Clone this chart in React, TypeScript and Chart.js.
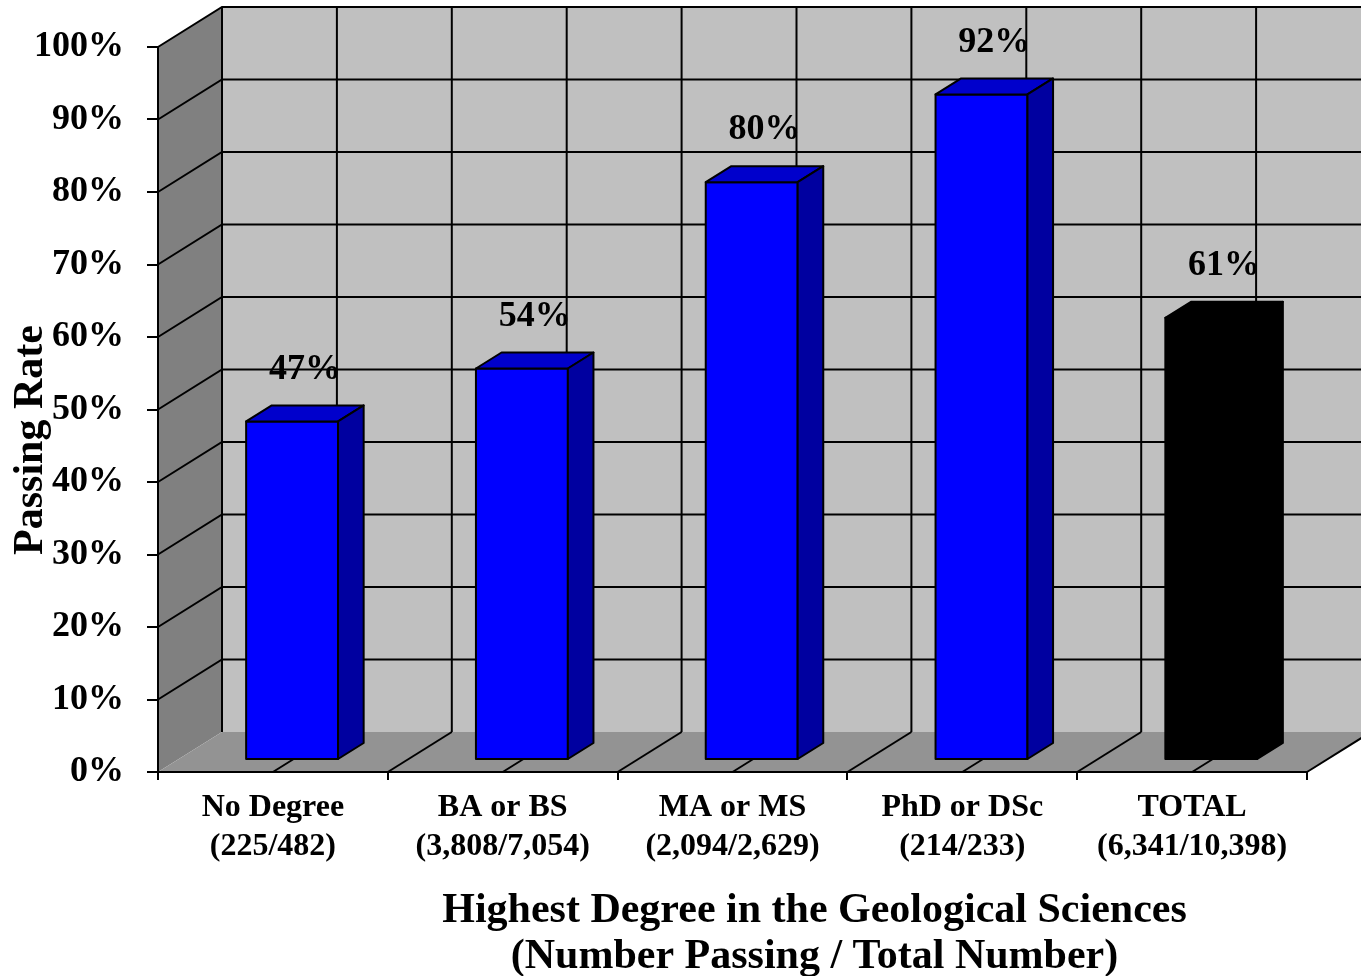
import { useEffect, useRef } from 'react';
import { Chart, registerables } from 'chart.js';

Chart.register(...registerables);

// ---- data ----
const categoryNames = ['No Degree', 'BA or BS', 'MA or MS', 'PhD or DSc', 'TOTAL'];
const categoryCounts = ['(225/482)', '(3,808/7,054)', '(2,094/2,629)', '(214/233)', '(6,341/10,398)'];
const passingRates = [46.7, 54.0, 79.7, 91.8, 61.0];
const yAxisMin = 0;
const yAxisMax = 100;
const yAxisStep = 10;
const yAxisTitle = 'Passing Rate';
const xAxisTitleLines = ['Highest Degree in the Geological Sciences', '(Number Passing / Total Number)'];

// ---- style ----
const FONT = '"Liberation Serif", "Times New Roman", serif';
const DEPTH_X = 64;
const DEPTH_Y = 40;
const BAR_DEPTH_START = 0.3;
const BAR_DEPTH = 0.4;
const barFaceColors = ['#0000ff', '#0000ff', '#0000ff', '#0000ff', '#000000'];
const barTopColors = ['#0000cc', '#0000cc', '#0000cc', '#0000cc', '#000000'];
const barSideColors = ['#0000a0', '#0000a0', '#0000a0', '#0000a0', '#000000'];

function poly(ctx: CanvasRenderingContext2D, pts: number[][], fill?: string, stroke?: string, lw = 2) {
  ctx.beginPath();
  ctx.moveTo(pts[0][0], pts[0][1]);
  for (let i = 1; i < pts.length; i++) ctx.lineTo(pts[i][0], pts[i][1]);
  ctx.closePath();
  if (fill) {
    ctx.fillStyle = fill;
    ctx.fill();
  }
  if (stroke) {
    ctx.strokeStyle = stroke;
    ctx.lineWidth = lw;
    ctx.lineJoin = 'round';
    ctx.stroke();
  }
}

function line(ctx: CanvasRenderingContext2D, pts: number[][]) {
  ctx.beginPath();
  ctx.moveTo(pts[0][0], pts[0][1]);
  for (let i = 1; i < pts.length; i++) ctx.lineTo(pts[i][0], pts[i][1]);
  ctx.stroke();
}

const threeDPlugin = {
  id: 'threeD',
  beforeDraw(chart: any) {
    const { ctx, chartArea: a, scales } = chart;
    const xs = scales.x;
    const ys = scales.y;
    const W = chart.width;
    ctx.save();
    // back wall
    ctx.fillStyle = '#c0c0c0';
    ctx.fillRect(a.left + DEPTH_X, a.top - DEPTH_Y, W, a.bottom - a.top);
    // side wall
    poly(ctx, [[a.left, a.top], [a.left + DEPTH_X, a.top - DEPTH_Y], [a.left + DEPTH_X, a.bottom - DEPTH_Y], [a.left, a.bottom]], '#808080');
    // floor
    poly(ctx, [[a.left, a.bottom], [a.left + DEPTH_X, a.bottom - DEPTH_Y], [a.right + DEPTH_X, a.bottom - DEPTH_Y], [a.right, a.bottom]], '#939393');

    ctx.strokeStyle = '#000';
    ctx.lineWidth = 2;
    // horizontal grid on side + back wall
    for (const t of ys.ticks) {
      if (t.value === yAxisMin) continue;
      const py = ys.getPixelForValue(t.value);
      line(ctx, [[a.left, py], [a.left + DEPTH_X, py - DEPTH_Y], [W, py - DEPTH_Y]]);
    }
    // vertical grid on back wall + floor lines
    const half = (xs.getPixelForValue(1) - xs.getPixelForValue(0)) / 2;
    for (let k = 0; a.left + DEPTH_X + k * half <= W + 1; k++) {
      const bx = a.left + DEPTH_X + k * half;
      line(ctx, [[bx, a.top - DEPTH_Y], [bx, a.bottom - DEPTH_Y]]);
    }
    const n = categoryNames.length * 2;
    for (let k = 1; k <= n; k++) {
      const fx = a.left + k * half;
      line(ctx, [[fx, a.bottom], [fx + DEPTH_X, a.bottom - DEPTH_Y]]);
    }
    ctx.restore();
  },
  afterDatasetsDraw(chart: any) {
    const { ctx, chartArea: a } = chart;
    const meta = chart.getDatasetMeta(0);
    const ox = DEPTH_X * BAR_DEPTH_START;
    const oy = -DEPTH_Y * BAR_DEPTH_START;
    const bx = DEPTH_X * BAR_DEPTH;
    const by = -DEPTH_Y * BAR_DEPTH;
    ctx.save();
    meta.data.forEach((el: any, i: number) => {
      const { x, y, base, width } = el.getProps(['x', 'y', 'base', 'width'], true);
      const L = x - width / 2 + ox;
      const R = x + width / 2 + ox;
      const T = y + oy;
      const B = base + oy;
      const edge = '#000';
      poly(ctx, [[L, B], [L, T], [R, T], [R, B]], barFaceColors[i], edge, 2);
      poly(ctx, [[L, T], [L + bx, T + by], [R + bx, T + by], [R, T]], barTopColors[i], edge, 2);
      poly(ctx, [[R, T], [R + bx, T + by], [R + bx, B + by], [R, B]], barSideColors[i], edge, 2);

      // data label
      ctx.fillStyle = '#000';
      ctx.font = `bold 36px ${FONT}`;
      ctx.textAlign = 'center';
      ctx.textBaseline = 'middle';
      ctx.fillText(`${Math.round(passingRates[i])}%`, x + ox + bx / 2, T + by - 36);
    });

    // y axis title
    ctx.save();
    ctx.translate(42, 440);
    ctx.rotate(-Math.PI / 2);
    ctx.font = `bold 42px ${FONT}`;
    ctx.textAlign = 'center';
    ctx.textBaseline = 'alphabetic';
    ctx.fillStyle = '#000';
    ctx.fillText(yAxisTitle, 0, 0);
    ctx.restore();

    // x axis title
    ctx.font = `bold 42px ${FONT}`;
    ctx.textAlign = 'center';
    ctx.textBaseline = 'alphabetic';
    ctx.fillStyle = '#000';
    const cx = (a.left + a.right) / 2 + 82;
    ctx.fillText(xAxisTitleLines[0], cx, 922);
    ctx.fillText(xAxisTitleLines[1], cx, 968);
    ctx.restore();
  },
};

export default function App() {
  const canvasRef = useRef<HTMLCanvasElement | null>(null);

  useEffect(() => {
    const canvas = canvasRef.current;
    if (!canvas) return;
    const labels = categoryNames.map((n, i) => [n, categoryCounts[i]]);
    const chart = new Chart(canvas, {
      type: 'bar',
      data: {
        labels,
        datasets: [
          {
            data: passingRates,
            backgroundColor: 'rgba(0,0,0,0)',
            borderWidth: 0,
            categoryPercentage: 1,
            barPercentage: 0.4,
          },
        ],
      },
      plugins: [threeDPlugin],
      options: {
        responsive: false,
        devicePixelRatio: 1,
        animation: false,
        events: [],
        layout: { padding: { top: 47, right: 54, left: 0, bottom: 0 } },
        plugins: {
          legend: { display: false },
          tooltip: { enabled: false },
          title: { display: false },
        },
        scales: {
          x: {
            type: 'category',
            offset: true,
            grid: { offset: true, drawOnChartArea: false, drawTicks: true, tickLength: 8, color: '#000', lineWidth: 2 },
            border: { display: true, color: '#000', width: 2 },
            ticks: {
              color: '#000',
              padding: 9,
              maxRotation: 0,
              autoSkip: false,
              font: { family: FONT, size: 32, weight: 'bold', lineHeight: 1.2 },
            },
            afterFit: (s: any) => {
              s.height = 204;
            },
          },
          y: {
            min: yAxisMin,
            max: yAxisMax,
            grid: { drawOnChartArea: false, drawTicks: true, tickLength: 11, color: '#000', lineWidth: 2 },
            border: { display: true, color: '#000', width: 2 },
            ticks: {
              stepSize: yAxisStep,
              color: '#000',
              padding: 23,
              callback: (v: any) => `${v}%`,
              font: { family: FONT, size: 36, weight: 'bold' },
            },
            afterFit: (s: any) => {
              s.width = 158;
            },
          },
        },
      } as any,
    });
    return () => chart.destroy();
  }, []);

  return (
    <div style={{ position: 'absolute', left: 0, top: 0, width: 1361, height: 976 }}>
      <canvas ref={canvasRef} width={1361} height={976} style={{ display: 'block' }} />
    </div>
  );
}
